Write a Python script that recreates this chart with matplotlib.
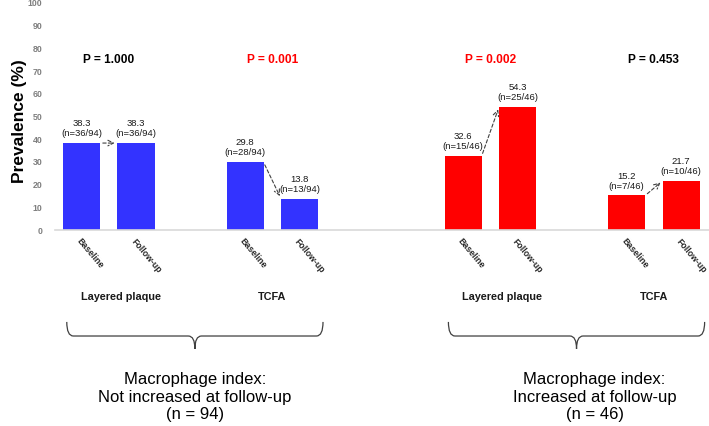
import numpy as np
import matplotlib.pyplot as plt
import matplotlib.transforms as mtransforms
from matplotlib.path import Path
from matplotlib.patches import PathPatch

plt.rcParams['font.family'] = ['Liberation Sans', 'DejaVu Sans']

# data
groups = ["Layered plaque", "TCFA", "Layered plaque", "TCFA"]
timepoints = ["Baseline", "Follow-up"]
baseline = [38.3, 29.8, 32.6, 15.2]
followup = [38.3, 13.8, 54.3, 21.7]
baseline_n = ["36/94", "28/94", "15/46", "7/46"]
followup_n = ["36/94", "13/94", "25/46", "10/46"]
p_values = [1.000, 0.001, 0.002, 0.453]
cohorts = ["Macrophage index:\nNot increased at follow-up\n(n = 94)",
           "Macrophage index:\nIncreased at follow-up\n(n = 46)"]
cohort_groups = [[0, 1], [2, 3]]
cohort_colors = ["#3333FF", "#FF0000"]

group_pos = np.array([0, 3, 7, 10])
width = 0.68

fig = plt.figure(figsize=(7.09, 4.26), dpi=100)
ax = fig.add_axes([55/709, 196/426, 654/709, 227/426])

for ci, gl in enumerate(cohort_groups):
    for g in gl:
        x0, x1 = group_pos[g], group_pos[g] + 1
        ax.bar([x0, x1], [baseline[g], followup[g]], width=width,
               color=cohort_colors[ci], edgecolor='none', zorder=2)
        for x, v, n in [(x0, baseline[g], baseline_n[g]), (x1, followup[g], followup_n[g])]:
            ax.annotate(f"{v:.1f}\n(n={n})", (x, v), xytext=(0, 3.5),
                        textcoords='offset points', ha='center', va='bottom',
                        fontsize=6.8, color='#1a1a1a', linespacing=1.15)
        # dashed arrow baseline -> follow-up
        ax.annotate("", xy=(x1 - width/2, followup[g]), xytext=(x0 + width/2, baseline[g]),
                    arrowprops=dict(arrowstyle='->', linestyle=(0, (3, 2)), color='#404040',
                                    lw=0.8, shrinkA=2, shrinkB=2))
        pcol = 'red' if p_values[g] < 0.05 else 'black'
        ax.text(x0 + 0.5, 75, f"P = {p_values[g]:.3f}", ha='center', va='center',
                fontsize=8.6, fontweight='bold', color=pcol)

ticks = np.concatenate([[p, p + 1] for p in group_pos])
ax.set_xticks(ticks)
ax.set_xticklabels(timepoints * len(group_pos), rotation=-50, ha='left',
                   rotation_mode='anchor', fontsize=6.3, fontweight='bold', color='#262626')
shift = mtransforms.ScaledTranslation(-5/72, 0, fig.dpi_scale_trans)
for lab in ax.get_xticklabels():
    lab.set_transform(lab.get_transform() + shift)
ax.tick_params(axis='x', length=0, pad=5)
ax.set_yticks(np.arange(0, 101, 10))
ax.tick_params(axis='y', length=0, pad=9, labelsize=6.3, labelcolor='#7f7f7f')
for lab in ax.get_yticklabels():
    lab.set_fontweight('bold')
ax.set_xlim(-0.486, 11.51)
ax.set_ylim(0, 100)
for s in ['top', 'right', 'left']:
    ax.spines[s].set_visible(False)
ax.spines['bottom'].set_color('#d9d9d9')
ax.spines['bottom'].set_linewidth(1.2)
fig.text(20/709, 1 - 121/426, "Prevalence (%)", rotation=90, ha='center', va='center',
         fontsize=12.5, fontweight='bold')

trans = mtransforms.blended_transform_factory(ax.transData, ax.transAxes)
label_shift = [0.22, 0, 0.22, 0]
for g, name in enumerate(groups):
    ax.text(group_pos[g] + 0.5 + label_shift[g], -0.295, name, transform=trans,
            ha='center', va='center', fontsize=7.8, fontweight='bold', color='#1a1a1a')

# braces under each cohort
text_shift = [0, 0.33]
for ci, gl in enumerate(cohort_groups):
    xa = group_pos[gl[0]] - 0.27
    xb = group_pos[gl[-1]] + 1 + 0.43
    xm = (xa + xb) / 2
    yt, yh, yb = -0.405, -0.467, -0.524
    r = 0.12
    path = Path([(xa, yt), (xa, yh), (xa + r, yh), (xm - r, yh), (xm, yh), (xm, yb),
                 (xm, yh), (xm + r, yh), (xb - r, yh), (xb, yh), (xb, yt)],
                [Path.MOVETO, Path.CURVE3, Path.CURVE3, Path.LINETO, Path.CURVE3, Path.CURVE3,
                 Path.CURVE3, Path.CURVE3, Path.LINETO, Path.CURVE3, Path.CURVE3])
    ax.add_patch(PathPatch(path, transform=trans, fill=False, edgecolor='#404040',
                           lw=0.9, clip_on=False))
    ax.text(xm + text_shift[ci], -0.736, cohorts[ci], transform=trans, ha='center',
            va='center', fontsize=12, linespacing=1.2, color='black')

fig.savefig("out.png", dpi=100)
